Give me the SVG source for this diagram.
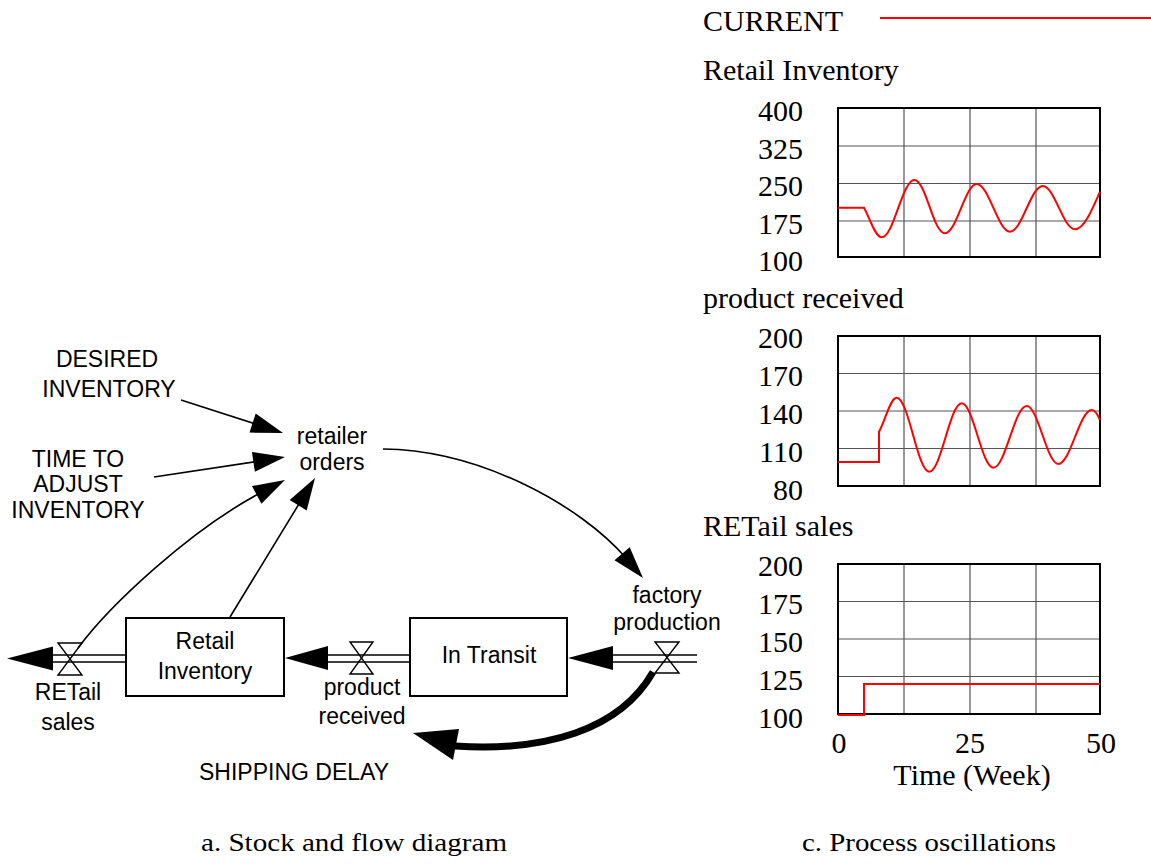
<svg xmlns="http://www.w3.org/2000/svg" width="1151" height="867" viewBox="0 0 1151 867">
<style>
.s{font-family:"Liberation Sans",Arial,sans-serif;font-size:23px;fill:#000;text-anchor:middle}
.t{font-family:"Liberation Serif","Times New Roman",serif;font-size:30px;fill:#000}
.ax{font-family:"Liberation Serif","Times New Roman",serif;font-size:30px;fill:#000;text-anchor:end}
.cap{font-family:"Liberation Serif","Times New Roman",serif;font-size:25px;fill:#000}
.box{fill:#fff;stroke:#000;stroke-width:2}
.ln{fill:none;stroke:#000;stroke-width:1.6}
.pipe{fill:none;stroke:#000;stroke-width:1.6}
.valve{fill:none;stroke:#000;stroke-width:1.4}
.ah{fill:#000;stroke:none}
.frame{fill:none;stroke:#000;stroke-width:2}
.grid{fill:none;stroke:#555;stroke-width:1.2}
.red{fill:none;stroke:#f00;stroke-width:2}
</style>

<!-- Stock and flow diagram -->
<g id="connectors">
  <!-- flow pipes -->
  <g id="pipe-retail-sales">
    <line class="pipe" x1="50" y1="655" x2="126" y2="655"/>
    <line class="pipe" x1="50" y1="662" x2="126" y2="662"/>
    <polygon class="ah" points="7,658.5 53,646.5 53,670.5"/>
  </g>
  <g id="pipe-product-received">
    <line class="pipe" x1="325" y1="655" x2="410" y2="655"/>
    <line class="pipe" x1="325" y1="662" x2="410" y2="662"/>
    <polygon class="ah" points="285,658 328,646 328,670"/>
  </g>
  <g id="pipe-factory-production">
    <line class="pipe" x1="610" y1="655" x2="697" y2="655"/>
    <line class="pipe" x1="610" y1="662" x2="697" y2="662"/>
    <polygon class="ah" points="568,658 613,646 613,670"/>
  </g>
  <!-- information links -->
  <g id="link-desired">
    <line class="ln" x1="181" y1="400" x2="260" y2="425.5"/>
    <polygon class="ah" points="283,433 249.5,432.6 255.7,413.6"/>
  </g>
  <g id="link-time">
    <line class="ln" x1="154" y1="477" x2="260" y2="461"/>
    <polygon class="ah" points="285,457 254.9,471.7 251.9,451.9"/>
  </g>
  <g id="link-sales">
    <path class="ln" d="M78,648 C110,605 190,530 262,492"/>
    <polygon class="ah" points="285,480 261.4,503.8 252,486.1"/>
  </g>
  <g id="link-inventory">
    <line class="ln" x1="230" y1="617" x2="302" y2="499"/>
    <polygon class="ah" points="315,478 306.7,510.5 289.7,500.1"/>
  </g>
  <g id="link-orders">
    <path class="ln" d="M383,449 C480,450 580,505 626,558"/>
    <polygon class="ah" points="643,578 614.5,560.3 629.7,547.3"/>
  </g>
  <g id="link-shipping-delay">
    <path fill="none" stroke="#000" stroke-width="7" d="M653,672 C620,730 545,752 455,746"/>
    <polygon class="ah" points="413,733 459,729 453,760"/>
  </g>
</g>

<g id="valve-retail-sales">
  <path class="valve" d="M58,643 H82 L58,675 H82 Z"/>
</g>
<g id="valve-product-received">
  <path class="valve" d="M350,642 H373 L350,674 H373 Z"/>
</g>
<g id="valve-factory-production">
  <path class="valve" d="M655,642 H679 L655,673 H679 Z"/>
</g>

<g id="node-retail-inventory">
  <rect class="box" x="126" y="618" width="158" height="78"/>
  <text class="s" x="205" y="649">Retail</text>
  <text class="s" x="205" y="679">Inventory</text>
</g>
<g id="node-in-transit">
  <rect class="box" x="410" y="618" width="157" height="78"/>
  <text class="s" x="489" y="663">In Transit</text>
</g>
<g id="node-retail-sales-label">
  <text class="s" x="68" y="700">RETail</text>
  <text class="s" x="68" y="730">sales</text>
</g>
<g id="node-product-received-label">
  <text class="s" x="362" y="695">product</text>
  <text class="s" x="362" y="724">received</text>
</g>
<g id="node-factory-production-label">
  <text class="s" x="667" y="603">factory</text>
  <text class="s" x="667" y="630">production</text>
</g>
<g id="node-shipping-delay">
  <text class="s" x="294" y="780">SHIPPING DELAY</text>
</g>
<g id="node-desired-inventory">
  <text class="s" x="107" y="367">DESIRED</text>
  <text class="s" x="109" y="397">INVENTORY</text>
</g>
<g id="node-time-to-adjust">
  <text class="s" x="78" y="467">TIME TO</text>
  <text class="s" x="78" y="492">ADJUST</text>
  <text class="s" x="78" y="518">INVENTORY</text>
</g>
<g id="node-retailer-orders">
  <text class="s" x="332" y="444">retailer</text>
  <text class="s" x="332" y="470">orders</text>
</g>

<!-- Process oscillations -->
<g id="legend">
  <text class="t" x="703" y="31">CURRENT</text>
  <line x1="880" y1="18" x2="1151" y2="18" stroke="#f00" stroke-width="2"/>
</g>

<g id="chart-retail-inventory">
  <text class="t" x="703" y="80" font-size="29">Retail Inventory</text>
  <path class="grid" d="M904,108 V257 M970,108 V257 M1036,108 V257 M838,146 H1100 M838,183.5 H1100 M838,221 H1100"/>
  <rect class="frame" x="838" y="108" width="262" height="149"/>
  <text class="ax" x="803" y="121">400</text>
  <text class="ax" x="803" y="158.5">325</text>
  <text class="ax" x="803" y="196">250</text>
  <text class="ax" x="803" y="233.5">175</text>
  <text class="ax" x="803" y="271">100</text>
  <path class="red" d="M838,207.7 H864 C869,216 875,237.3 881.7,237.3 C893.6,237.3 902.4,180 914.3,180 C926,180 933,233.3 945,233.3 C956.5,233.3 965.2,184 976.7,184 C988.8,184 998,231.7 1010,231.7 C1022,231.7 1030.8,186 1042.7,186 C1054.5,186 1063.2,229.3 1075,229.3 C1084,229.3 1092,210 1100,191.7"/>
</g>

<g id="chart-product-received">
  <text class="t" x="703" y="308" font-size="29">product received</text>
  <path class="grid" d="M904,336 V486 M970,336 V486 M1036,336 V486 M838,373.5 H1100 M838,411 H1100 M838,448.5 H1100"/>
  <rect class="frame" x="838" y="336" width="262" height="150"/>
  <text class="ax" x="803" y="348">200</text>
  <text class="ax" x="803" y="386">170</text>
  <text class="ax" x="803" y="424">140</text>
  <text class="ax" x="803" y="462">110</text>
  <text class="ax" x="803" y="500">80</text>
  <path class="red" d="M838,462 H879 V431.7 C885,422 890,397.7 896.7,397.7 C908.6,397.7 917.4,471.7 929.3,471.7 C941.1,471.7 949.9,403.3 961.7,403.3 C973.2,403.3 981.8,467.7 993.3,467.7 C1005.5,467.7 1014.5,406 1026.7,406 C1038.2,406 1046.8,464 1058.3,464 C1070.4,464 1079.6,410 1091.7,410 C1095,410 1097.5,414 1100,420"/>
</g>

<g id="chart-retail-sales">
  <text class="t" x="703" y="536" font-size="29">RETail sales</text>
  <path class="grid" d="M904,564 V714 M970,564 V714 M1036,564 V714 M838,601.5 H1100 M838,639 H1100 M838,676.5 H1100"/>
  <rect class="frame" x="838" y="564" width="262" height="150"/>
  <text class="ax" x="803" y="576">200</text>
  <text class="ax" x="803" y="614">175</text>
  <text class="ax" x="803" y="652">150</text>
  <text class="ax" x="803" y="690">125</text>
  <text class="ax" x="803" y="728">100</text>
  <path class="red" d="M838,715 H864 V684 H1100"/>
  <text class="t" x="839" y="753" text-anchor="middle">0</text>
  <text class="t" x="970" y="753" text-anchor="middle">25</text>
  <text class="t" x="1101" y="753" text-anchor="middle">50</text>
  <text class="t" x="972" y="785" text-anchor="middle">Time (Week)</text>
</g>

<g id="captions">
  <text class="cap" x="201" y="851" textLength="306" lengthAdjust="spacingAndGlyphs">a. Stock and flow diagram</text>
  <text class="cap" x="802" y="851" textLength="254" lengthAdjust="spacingAndGlyphs">c. Process oscillations</text>
</g>
</svg>
